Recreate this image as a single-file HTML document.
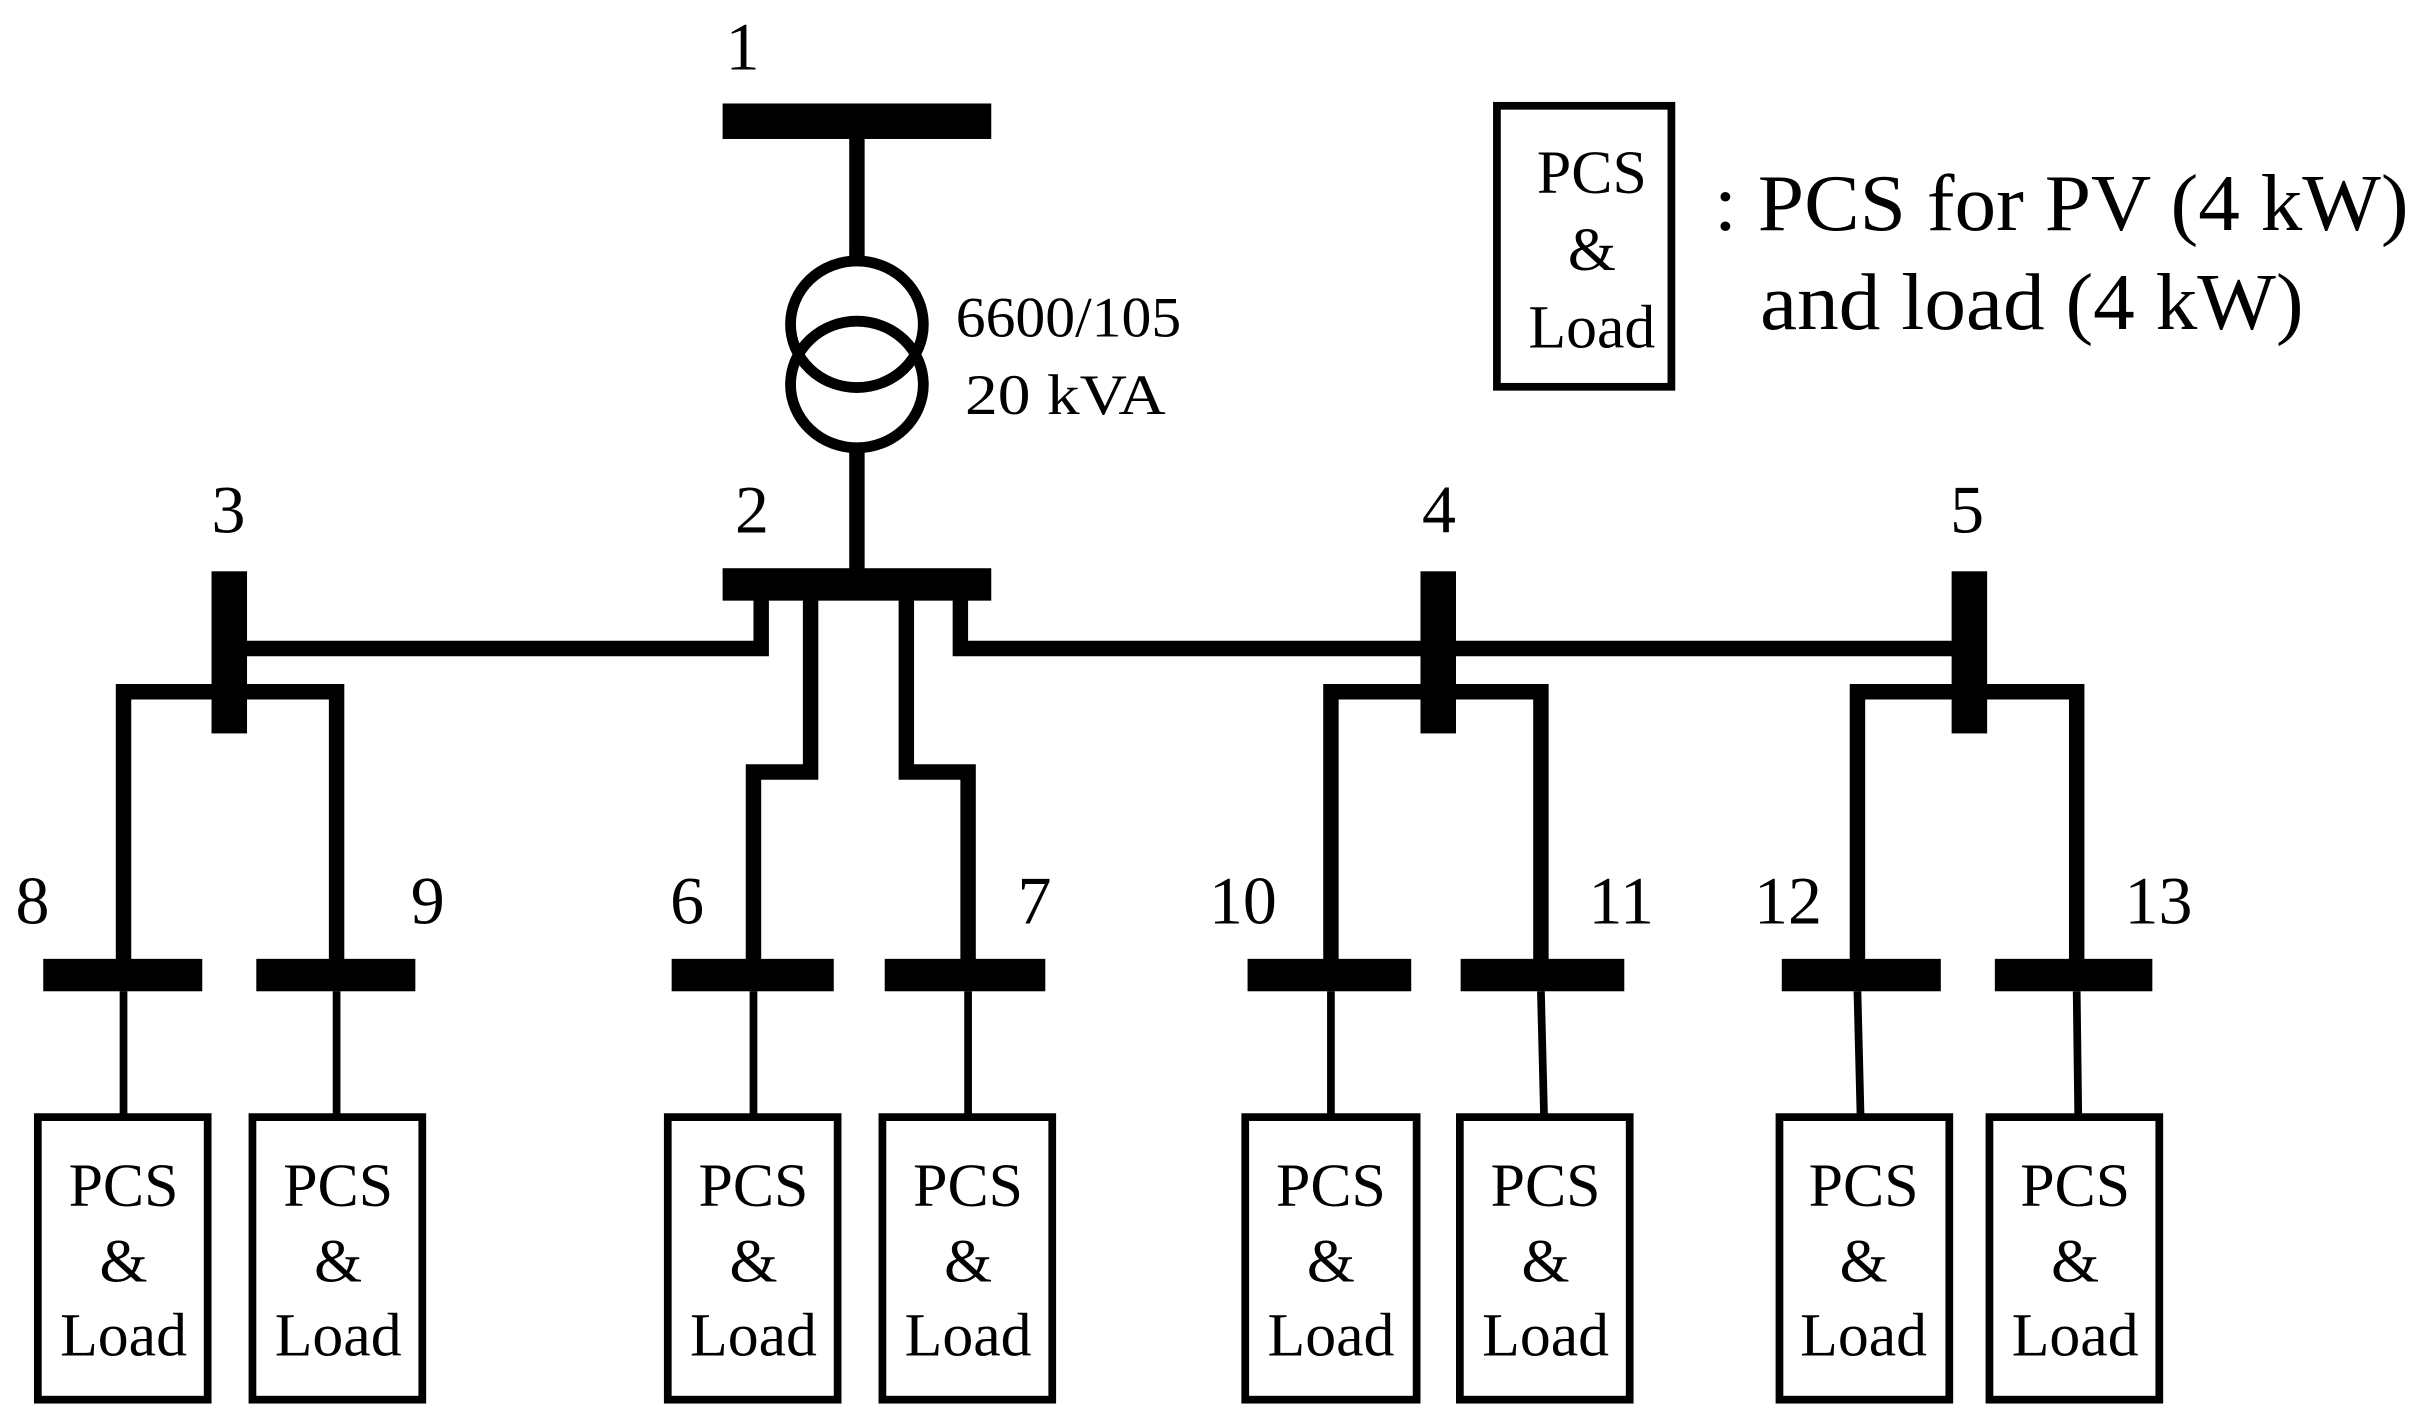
<!DOCTYPE html>
<html><head><meta charset="utf-8"><style>
html,body{margin:0;padding:0;background:#fff}
svg{display:block}
text{font-family:"Liberation Serif",serif;fill:#000}
</style></head><body>
<svg width="2421" height="1421" viewBox="0 0 1568 920.3" xmlns="http://www.w3.org/2000/svg">
<g fill="#000">
<rect x="468" y="67" width="174" height="23"/>
<rect x="468" y="368" width="174" height="21"/>
<rect x="137" y="370" width="23" height="105"/>
<rect x="920" y="370" width="23" height="105"/>
<rect x="1264" y="370" width="23" height="105"/>
<rect x="28" y="621" width="103" height="21"/>
<rect x="166" y="621" width="103" height="21"/>
<rect x="435" y="621" width="105" height="21"/>
<rect x="573" y="621" width="104" height="21"/>
<rect x="808" y="621" width="106" height="21"/>
<rect x="946" y="621" width="106" height="21"/>
<rect x="1154" y="621" width="103" height="21"/>
<rect x="1292" y="621" width="102" height="21"/>
</g>
<g stroke="#000" fill="none" stroke-width="10">
<line x1="555" y1="90" x2="555" y2="167"/>
<line x1="555" y1="292" x2="555" y2="370"/>
<polyline points="493,388 493,420 155,420"/>
<polyline points="622,388 622,420 1270,420"/>
<polyline points="525,388 525,500 488,500 488,623"/>
<polyline points="587,388 587,500 627,500 627,623"/>
<polyline points="80,623 80,448 218,448 218,623"/>
<polyline points="862,623 862,448 998,448 998,623"/>
<polyline points="1203,623 1203,448 1345,448 1345,623"/>
</g>
<g stroke="#000" fill="none" stroke-width="7">
<ellipse cx="555" cy="210" rx="43" ry="41"/>
<ellipse cx="555" cy="249" rx="43" ry="41"/>
</g>
<g stroke="#000" fill="none" stroke-width="5">
<line x1="80" y1="642" x2="80" y2="722"/>
<line x1="218" y1="642" x2="218" y2="722"/>
<line x1="488" y1="642" x2="488" y2="722"/>
<line x1="627" y1="642" x2="627" y2="722"/>
<line x1="862" y1="642" x2="862" y2="722"/>
<line x1="998" y1="642" x2="1000" y2="722"/>
<line x1="1203" y1="642" x2="1205" y2="722"/>
<line x1="1345" y1="642" x2="1346" y2="722"/>
<rect x="24.5" y="723.5" width="110" height="183"/>
<rect x="163.5" y="723.5" width="110" height="183"/>
<rect x="432.5" y="723.5" width="110" height="183"/>
<rect x="571.5" y="723.5" width="110" height="183"/>
<rect x="806.5" y="723.5" width="111" height="183"/>
<rect x="945.5" y="723.5" width="110" height="183"/>
<rect x="1152.5" y="723.5" width="110" height="183"/>
<rect x="1288.5" y="723.5" width="110" height="183"/>
<rect x="969.5" y="68.5" width="113" height="182"/>
</g>
<g font-size="44" text-anchor="middle">
<text x="481" y="45">1</text>
<text x="148" y="345">3</text>
<text x="487" y="345">2</text>
<text x="932" y="345">4</text>
<text x="1274" y="345">5</text>
<text x="21" y="598">8</text>
<text x="277" y="598">9</text>
<text x="445" y="598">6</text>
<text x="670" y="598">7</text>
<text x="805" y="598">10</text>
<text x="1050" y="598">11</text>
<text x="1158" y="598">12</text>
<text x="1398" y="598">13</text>
</g>
<g font-size="37">
<text x="619" y="218" textLength="146" lengthAdjust="spacingAndGlyphs">6600/105</text>
<text x="625" y="268" textLength="130" lengthAdjust="spacingAndGlyphs">20 kVA</text>
</g>
<g font-size="40" text-anchor="middle">
<text x="80" y="781">PCS</text><text x="80" y="830">&amp;</text><text x="80" y="878">Load</text>
<text x="219" y="781">PCS</text><text x="219" y="830">&amp;</text><text x="219" y="878">Load</text>
<text x="488" y="781">PCS</text><text x="488" y="830">&amp;</text><text x="488" y="878">Load</text>
<text x="627" y="781">PCS</text><text x="627" y="830">&amp;</text><text x="627" y="878">Load</text>
<text x="862" y="781">PCS</text><text x="862" y="830">&amp;</text><text x="862" y="878">Load</text>
<text x="1001" y="781">PCS</text><text x="1001" y="830">&amp;</text><text x="1001" y="878">Load</text>
<text x="1207" y="781">PCS</text><text x="1207" y="830">&amp;</text><text x="1207" y="878">Load</text>
<text x="1344" y="781">PCS</text><text x="1344" y="830">&amp;</text><text x="1344" y="878">Load</text>
<text x="1031" y="125">PCS</text><text x="1031" y="175">&amp;</text><text x="1031" y="225">Load</text>
</g>
<g font-size="52">
<text x="1110" y="149" textLength="450" lengthAdjust="spacingAndGlyphs">: PCS for PV (4 kW)</text>
<text x="1140" y="213" textLength="352" lengthAdjust="spacingAndGlyphs">and load (4 kW)</text>
</g>
</svg>
</body></html>
